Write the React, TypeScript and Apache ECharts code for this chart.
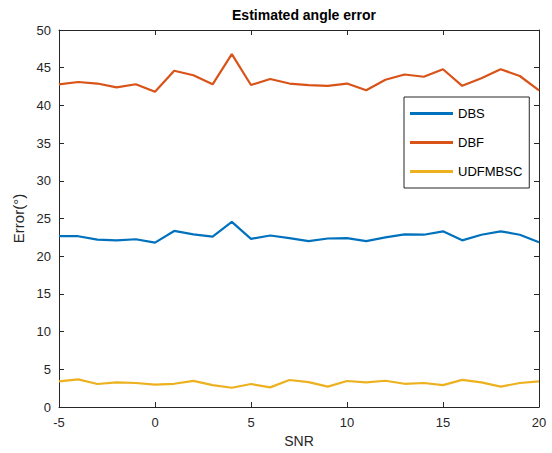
import React, { useEffect, useRef } from "react";
import * as echarts from "echarts";

const snr = [-5, -4, -3, -2, -1, 0, 1, 2, 3, 4, 5, 6, 7, 8, 9, 10, 11, 12, 13, 14, 15, 16, 17, 18, 19, 20];
const dbs = [22.65, 22.65, 22.2, 22.1, 22.25, 21.8, 23.35, 22.9, 22.6, 24.55, 22.3, 22.75, 22.4, 22.0, 22.35, 22.4, 22.0, 22.5, 22.9, 22.85, 23.3, 22.1, 22.85, 23.3, 22.85, 21.85];
const dbf = [42.8, 43.1, 42.9, 42.4, 42.8, 41.8, 44.6, 44.0, 42.8, 46.8, 42.7, 43.5, 42.9, 42.7, 42.6, 42.9, 42.0, 43.4, 44.1, 43.8, 44.8, 42.6, 43.6, 44.8, 43.9, 42.0];
const udf = [3.4, 3.67, 3.05, 3.27, 3.18, 2.96, 3.08, 3.47, 2.9, 2.55, 3.05, 2.6, 3.58, 3.3, 2.7, 3.45, 3.27, 3.48, 3.08, 3.18, 2.9, 3.6, 3.27, 2.7, 3.18, 3.4];
const seriesNames = ["DBS", "DBF", "UDFMBSC"];
const colors = ["#0072BD", "#D95319", "#EDB120"];

const font = "'Liberation Sans', Arial, Helvetica, sans-serif";
const axisColor = "#262626";

export default function App() {
  const ref = useRef<HTMLDivElement>(null);
  useEffect(() => {
    if (!ref.current) return;
    const chart = echarts.init(ref.current, undefined, { renderer: "svg" });
    const pairs = (ys: number[]) => snr.map((x, i) => [x, ys[i]]);
    const all = [dbs, dbf, udf];
    const baseX = {
      type: "value" as const,
      min: -5,
      max: 20,
      interval: 5,
      axisLine: { show: true, onZero: false, lineStyle: { color: axisColor, width: 1 } },
      axisTick: { show: true, inside: true, length: 5, lineStyle: { color: axisColor } },
      splitLine: { show: false },
    };
    const baseY = {
      type: "value" as const,
      min: 0,
      max: 50,
      interval: 5,
      axisLine: { show: true, onZero: false, lineStyle: { color: axisColor, width: 1 } },
      axisTick: { show: true, inside: true, length: 5, lineStyle: { color: axisColor } },
      splitLine: { show: false },
    };
    chart.setOption({
      animation: false,
      backgroundColor: "#ffffff",
      textStyle: { fontFamily: font },
      title: {
        text: "Estimated angle error",
        left: 299,
        textAlign: "center",
        top: 3,
        textStyle: { fontSize: 14, fontWeight: "bold", color: "#000", fontFamily: font },
      },
      grid: { left: 59, right: 13, top: 30, bottom: 46, containLabel: false },
      legend: {
        orient: "vertical",
        left: 404,
        top: 97,
        data: seriesNames,
        icon: "rect",
        itemWidth: 43,
        itemHeight: 3,
        itemGap: 16,
        padding: [10, 7, 10, 6],
        borderColor: axisColor,
        borderWidth: 1,
        backgroundColor: "#ffffff",
        textStyle: { fontSize: 13, color: "#000", fontFamily: font },
      },
      xAxis: [
        {
          ...baseX,
          position: "bottom",
          name: "SNR",
          nameLocation: "middle",
          nameGap: 25,
          nameTextStyle: { fontSize: 14, color: axisColor, fontFamily: font },
          axisLabel: { show: true, fontSize: 13, color: axisColor, margin: 9, fontFamily: font },
        },
        { ...baseX, position: "top", axisLabel: { show: false } },
      ],
      yAxis: [
        {
          ...baseY,
          position: "left",
          name: "Error(°)",
          nameLocation: "middle",
          nameGap: 20,
          nameTextStyle: { fontSize: 15, color: axisColor, fontFamily: font },
          axisLabel: { show: true, fontSize: 13, color: axisColor, margin: 8, fontFamily: font },
        },
        { ...baseY, position: "right", axisLabel: { show: false } },
      ],
      series: seriesNames.map((name, i) => ({
        name,
        type: "line",
        data: pairs(all[i]),
        xAxisIndex: 0,
        yAxisIndex: 0,
        showSymbol: false,
        symbol: "none",
        color: colors[i],
        lineStyle: { color: colors[i], width: 2.2 },
      })),
    });
    return () => chart.dispose();
  }, []);
  return <div ref={ref} style={{ position: "fixed", left: 0, top: 0, width: 552, height: 453 }} />;
}
